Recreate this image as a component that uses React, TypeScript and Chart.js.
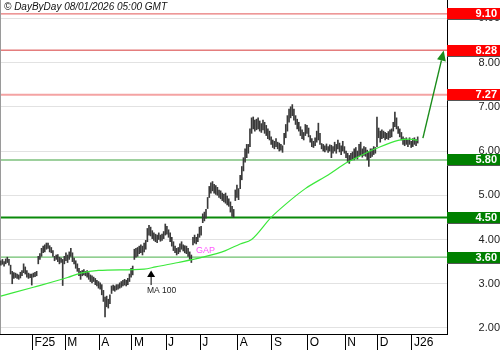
import React, { useEffect, useRef } from 'react';
import Chart from 'chart.js/auto';

const FONT = '"Liberation Sans", Arial, sans-serif';

const titleText = '© DayByDay 08/01/2026 05:00 GMT';

const monthLabels = ['F25', 'M', 'A', 'M', 'J', 'J', 'A', 'S', 'O', 'N', 'D', 'J26'];
const monthStarts = [20, 40, 61, 81, 102, 123, 146, 167, 189, 212, 232, 253];

const lows = [
  3.42, 3.44, 3.40, 3.45, 3.48, 3.42, 3.22, 3.00, 3.12, 3.14, 3.12, 3.10, 3.13, 3.18, 3.25, 3.22, 3.15, 3.12, 3.14, 2.97,
  3.15, 3.16, 3.18, 3.45, 3.55, 3.62, 3.70, 3.72, 3.78, 3.80, 3.72, 3.70, 3.62, 3.52, 3.55, 3.50, 3.45, 3.48, 2.96, 3.45,
  3.52, 3.48, 3.55, 3.62, 3.50, 3.45, 3.35, 3.28, 3.18, 3.10, 3.18, 3.20, 3.18, 3.15, 3.10, 3.05, 3.02, 3.05, 2.98, 2.95,
  2.90, 2.88, 2.75, 2.60, 2.25, 2.48, 2.45, 2.55, 2.78, 2.85, 2.83, 2.86, 2.88, 2.90, 2.92, 2.95, 2.97, 2.95, 2.98, 3.05,
  3.15, 3.20, 3.55, 3.60, 3.62, 3.68, 3.70, 3.65, 3.72, 3.78, 3.95, 4.10, 4.08, 4.02, 3.98, 3.95, 3.93, 4.00, 3.96, 3.98,
  4.02, 4.10, 4.12, 4.05, 3.95, 3.85, 3.75, 3.70, 3.65, 3.68, 3.72, 3.78, 3.74, 3.70, 3.68, 3.62, 3.55, 3.48, 3.88, 3.92,
  3.90, 3.95, 4.05, 4.10, 4.38, 4.42, 4.48, 4.70, 4.95, 5.05, 5.10, 5.05, 5.02, 5.00, 4.95, 4.92, 4.88, 4.85, 4.82, 4.78,
  4.75, 4.62, 4.52, 4.50, 4.88, 4.95, 4.90, 5.15, 5.35, 5.55, 5.75, 5.85, 5.95, 6.10, 6.40, 6.50, 6.45, 6.48, 6.50, 6.45,
  6.42, 6.48, 6.40, 6.35, 6.28, 6.25, 6.15, 6.08, 6.05, 6.10, 6.05, 6.00, 6.02, 5.97, 6.15, 6.30, 6.45, 6.65, 6.75, 6.80,
  6.70, 6.60, 6.50, 6.45, 6.35, 6.28, 6.25, 6.35, 6.40, 6.32, 6.20, 6.10, 6.08, 6.12, 6.20, 6.25, 6.15, 6.05, 6.00, 5.98,
  6.02, 5.97, 6.00, 5.85, 5.95, 6.00, 5.95, 6.05, 5.98, 5.92, 6.00, 5.95, 5.85, 5.75, 5.72, 5.78, 5.80, 5.80, 5.85, 5.82,
  5.88, 5.90, 5.86, 5.90, 5.88, 5.80, 5.65, 5.85, 5.88, 5.92, 5.95, 6.10, 6.30, 6.20, 6.28, 6.30, 6.25, 6.28, 6.26, 6.30,
  6.32, 6.45, 6.55, 6.50, 6.40, 6.32, 6.25, 6.15, 6.12, 6.15, 6.10, 6.15, 6.08, 6.10, 6.15, 6.12, 6.18,
];

const highs = [
  3.52, 3.55, 3.50, 3.56, 3.60, 3.55, 3.42, 3.28, 3.25, 3.24, 3.22, 3.20, 3.26, 3.30, 3.45, 3.38, 3.30, 3.24, 3.22, 3.22,
  3.24, 3.26, 3.28, 3.62, 3.68, 3.80, 3.85, 3.88, 3.92, 3.92, 3.86, 3.82, 3.75, 3.62, 3.65, 3.66, 3.60, 3.58, 3.55, 3.62,
  3.70, 3.65, 3.72, 3.80, 3.70, 3.58, 3.52, 3.45, 3.35, 3.28, 3.30, 3.32, 3.28, 3.30, 3.25, 3.20, 3.18, 3.15, 3.12, 3.08,
  3.05, 3.02, 2.98, 2.85, 2.70, 2.72, 2.65, 2.75, 2.95, 2.97, 2.95, 2.98, 2.98, 3.02, 3.05, 3.08, 3.10, 3.08, 3.12, 3.22,
  3.35, 3.40, 3.78, 3.80, 3.82, 3.85, 3.88, 3.85, 3.92, 3.98, 4.25, 4.32, 4.28, 4.20, 4.15, 4.12, 4.10, 4.15, 4.10, 4.12,
  4.18, 4.35, 4.30, 4.22, 4.15, 4.05, 3.95, 3.85, 3.80, 3.82, 3.90, 3.95, 3.88, 3.86, 3.85, 3.80, 3.72, 3.65, 4.05, 4.10,
  4.05, 4.12, 4.28, 4.30, 4.58, 4.62, 4.68, 4.95, 5.20, 5.28, 5.31, 5.25, 5.22, 5.18, 5.12, 5.10, 5.05, 5.02, 5.05, 4.98,
  4.92, 4.85, 4.75, 4.68, 5.12, 5.23, 5.15, 5.45, 5.65, 5.85, 6.05, 6.15, 6.15, 6.50, 6.75, 6.77, 6.70, 6.72, 6.75, 6.68,
  6.62, 6.70, 6.65, 6.58, 6.50, 6.45, 6.32, 6.25, 6.22, 6.28, 6.20, 6.18, 6.15, 6.12, 6.40, 6.60, 6.80, 6.95, 7.00, 7.05,
  6.95, 6.80, 6.72, 6.65, 6.55, 6.48, 6.42, 6.60, 6.58, 6.52, 6.35, 6.28, 6.22, 6.30, 6.45, 6.63, 6.40, 6.17, 6.15, 6.12,
  6.16, 6.10, 6.14, 6.13, 6.10, 6.20, 6.15, 6.25, 6.18, 6.12, 6.22, 6.10, 6.00, 5.95, 5.90, 5.95, 5.98, 6.05, 6.08, 6.00,
  6.15, 6.20, 6.05, 6.10, 6.08, 6.02, 5.98, 6.05, 6.05, 6.10, 6.08, 6.77, 6.52, 6.45, 6.48, 6.45, 6.42, 6.40, 6.44, 6.48,
  6.50, 6.65, 6.88, 6.75, 6.55, 6.50, 6.42, 6.32, 6.28, 6.30, 6.25, 6.30, 6.22, 6.28, 6.30, 6.26, 6.32,
];

const maIdx = [0, 20, 41, 49, 60, 88, 95, 109, 124, 138, 147, 154, 166, 175, 187, 201, 213, 218, 224, 230, 244, 251, 256];
const maVal = [2.72, 2.92, 3.14, 3.24, 3.30, 3.33, 3.38, 3.48, 3.60, 3.75, 3.90, 4.00, 4.50, 4.80, 5.15, 5.46, 5.75, 5.84, 5.95, 6.05, 6.24, 6.27, 6.24];

const yTicks = [2, 3, 4, 5, 6, 7, 8, 9];

const levelValues = [9.10, 8.28, 7.27, 5.80, 4.50, 3.60];
const levelLabels = ['9.10', '8.28', '7.27', '5.80', '4.50', '3.60'];
const levelLineColors = ['#e25555', '#d63a3a', '#f4a3a3', '#9dd09d', '#0a8a0a', '#6cbf6c'];
const levelLineWidths = [1, 1, 2, 2, 2, 1.2];
const levelBoxColors = ['#ff0000', '#ff0000', '#ff0000', '#008000', '#008000', '#008000'];

// target arrow (index, price)
const arrowFrom = [259.2, 6.29];
const arrowTo = [272.0, 8.27];
// MA 100 annotation
const maArrowTip = [92.3, 3.30];
const maArrowTail = [92.3, 2.97];
const maLabelAt = [89.7, 2.85];
const gapLabelAt = [119.8, 3.75];

const overlayPlugin = {
  id: 'overlay',
  beforeDatasetsDraw(chart: any) {
    const { ctx, chartArea, scales } = chart;
    const y = scales.y;
    ctx.save();
    levelValues.forEach((v, i) => {
      const py = y.getPixelForValue(v);
      ctx.strokeStyle = levelLineColors[i];
      ctx.lineWidth = levelLineWidths[i];
      ctx.beginPath();
      ctx.moveTo(chartArea.left, py);
      ctx.lineTo(chartArea.right, py);
      ctx.stroke();
    });
    ctx.strokeStyle = '#9a9a9a';
    ctx.lineWidth = 1;
    ctx.beginPath();
    ctx.moveTo(chartArea.left + 0.5, chartArea.top);
    ctx.lineTo(chartArea.left + 0.5, chartArea.bottom);
    ctx.stroke();
    ctx.restore();
  },
  afterDraw(chart: any) {
    const { ctx, chartArea, scales, width } = chart;
    const x = scales.x;
    const y = scales.y;
    ctx.save();
    levelValues.forEach((v, i) => {
      const py = y.getPixelForValue(v);
      const top = Math.round(py - 5.5);
      ctx.fillStyle = levelBoxColors[i];
      ctx.fillRect(chartArea.right, top, width - chartArea.right, 11);
      ctx.fillStyle = '#555';
      ctx.fillRect(chartArea.right, top + 11, width - chartArea.right, 1);
      ctx.fillStyle = '#fff';
      ctx.font = `bold 11px ${FONT}`;
      ctx.textAlign = 'right';
      ctx.textBaseline = 'middle';
      ctx.fillText(levelLabels[i], width - 3, top + 6);
    });
    ctx.fillStyle = '#111';
    ctx.font = `italic 10px ${FONT}`;
    ctx.textAlign = 'left';
    ctx.textBaseline = 'middle';
    ctx.fillText(titleText, 4, 7);
    ctx.fillStyle = '#ff55ff';
    ctx.font = `9px ${FONT}`;
    ctx.fillText('GAP', x.getPixelForValue(gapLabelAt[0]), y.getPixelForValue(gapLabelAt[1]));
    ctx.fillStyle = '#222';
    ctx.font = `8.5px ${FONT}`;
    ctx.fillText('MA 100', x.getPixelForValue(maLabelAt[0]), y.getPixelForValue(maLabelAt[1]));
    const tx = x.getPixelForValue(maArrowTip[0]);
    const ty = y.getPixelForValue(maArrowTip[1]);
    const by = y.getPixelForValue(maArrowTail[1]);
    ctx.fillStyle = '#000';
    ctx.beginPath();
    ctx.moveTo(tx, ty);
    ctx.lineTo(tx - 4, ty + 6.5);
    ctx.lineTo(tx + 4, ty + 6.5);
    ctx.closePath();
    ctx.fill();
    ctx.strokeStyle = '#000';
    ctx.lineWidth = 1;
    ctx.beginPath();
    ctx.moveTo(tx, ty + 6);
    ctx.lineTo(tx, by);
    ctx.stroke();
    const x1 = x.getPixelForValue(arrowFrom[0]);
    const y1 = y.getPixelForValue(arrowFrom[1]);
    const x2 = x.getPixelForValue(arrowTo[0]);
    const y2 = y.getPixelForValue(arrowTo[1]);
    const ang = Math.atan2(y2 - y1, x2 - x1);
    const hl = 10;
    const hw = 4.5;
    const bx = x2 - hl * Math.cos(ang);
    const byy = y2 - hl * Math.sin(ang);
    ctx.strokeStyle = '#1a8c1a';
    ctx.lineWidth = 1.4;
    ctx.beginPath();
    ctx.moveTo(x1, y1);
    ctx.lineTo(bx, byy);
    ctx.stroke();
    ctx.fillStyle = '#1a8c1a';
    ctx.beginPath();
    ctx.moveTo(x2, y2);
    ctx.lineTo(bx + hw * Math.sin(ang), byy - hw * Math.cos(ang));
    ctx.lineTo(bx - hw * Math.sin(ang), byy + hw * Math.cos(ang));
    ctx.closePath();
    ctx.fill();
    ctx.restore();
  },
};

export default function App() {
  const ref = useRef<HTMLCanvasElement>(null);
  useEffect(() => {
    if (!ref.current) return;
    const chart = new Chart(ref.current, {
      type: 'bar',
      data: {
        datasets: [
          {
            type: 'line',
            data: maIdx.map((v, i) => ({ x: v, y: maVal[i] })),
            borderColor: '#3be83b',
            borderWidth: 1.2,
            pointRadius: 0,
            cubicInterpolationMode: 'monotone',
            order: 1,
          } as any,
          {
            type: 'bar',
            data: lows.map((lo, i) => ({ x: i, y: [lo, highs[i]] })),
            backgroundColor: '#3a3a3a',
            borderWidth: 0,
            barThickness: 1,
            grouped: false,
            order: 2,
          } as any,
        ],
      },
      options: {
        animation: false,
        responsive: false,
        events: [],
        layout: { padding: 0 },
        plugins: { legend: { display: false }, tooltip: { enabled: false }, title: { display: false } },
        scales: {
          x: {
            type: 'linear',
            offset: false,
            min: -0.5,
            max: 274,
            afterBuildTicks: (s: any) => {
              s.ticks = monthStarts.map((v) => ({ value: v - 0.5 }));
            },
            afterFit: (s: any) => {
              s.height = 16;
              s.paddingLeft = 0;
              s.paddingRight = 0;
            },
            grid: { offset: false, drawOnChartArea: false, drawTicks: true, tickLength: 16, color: '#000', tickColor: '#000' },
            border: { display: true, color: '#000', width: 1 },
            ticks: {
              autoSkip: false,
              maxRotation: 0,
              minRotation: 0,
              align: 'start',
              labelOffset: 2,
              padding: -14.6,
              color: '#000',
              font: { family: FONT, size: 12 },
              callback: (_v: any, i: number) => monthLabels[i],
            },
          },
          y: {
            type: 'linear',
            position: 'right',
            min: 1.864,
            max: 9.414,
            afterBuildTicks: (s: any) => {
              s.ticks = yTicks.map((v) => ({ value: v }));
            },
            afterFit: (s: any) => {
              s.width = 53;
              s.paddingTop = 0;
              s.paddingBottom = 0;
            },
            grid: { color: '#e2e2e2', drawTicks: false, lineWidth: 1 },
            border: { display: true, color: '#000', width: 1 },
            ticks: {
              crossAlign: 'far',
              padding: 30,
              color: '#222',
              font: { family: FONT, size: 11 },
              callback: (v: any) => Number(v).toFixed(2),
            },
          },
        },
      } as any,
      plugins: [overlayPlugin],
    });
    return () => chart.destroy();
  }, []);
  return (
    <div style={{ position: 'fixed', left: 0, top: 0, width: 500, height: 350, background: '#fff' }}>
      <canvas ref={ref} width={500} height={350} style={{ display: 'block' }} />
    </div>
  );
}
